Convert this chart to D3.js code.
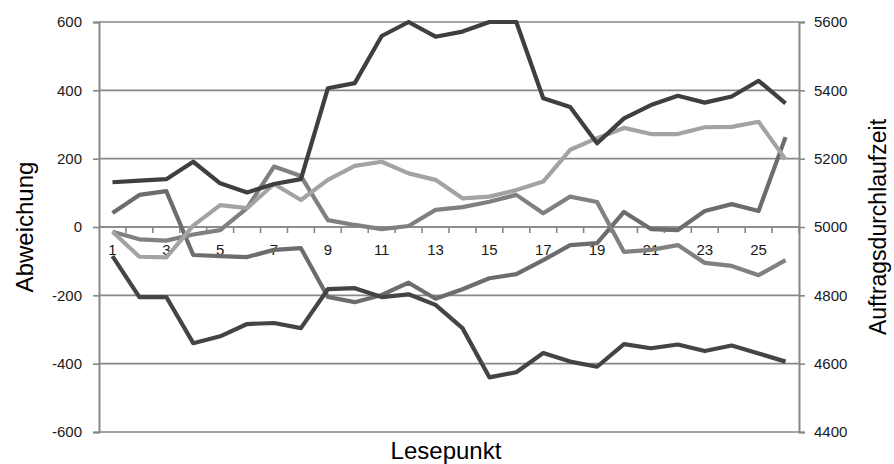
<!DOCTYPE html>
<html>
<head>
<meta charset="utf-8">
<script src="https://cdn.jsdelivr.net/npm/d3@7"></script>
<style>
  html, body { margin: 0; padding: 0; background: #fff; }
  svg { display: block; font-family: "Liberation Sans", Arial, sans-serif; }
</style>
</head>
<body>
<div id="chart"></div>
<script>
// Lesepunkte (x categories)
var lesepunkte = [1,2,3,4,5,6,7,8,9,10,11,12,13,14,15,16,17,18,19,20,21,22,23,24,25,26];
var leftTicks  = [-600,-400,-200,0,200,400,600];
var rightTicks = [4400,4600,4800,5000,5200,5400,5600];

// Abweichung series (left axis)
var reiheOben  = [131,136,140,191,128,101,126,140,406,421,559,600,557,572,600,600,377,351,245,318,357,384,364,382,428,362];
var reiheMitte = [41,94,105,-82,-85,-88,-67,-62,-205,-220,-199,-163,-210,-182,-150,-138,-97,-53,-47,44,-6,-9,47,67,47,263];
var reiheGrau  = [-14,-36,-40,-22,-9,55,177,149,20,6,-6,3,50,58,74,94,40,89,73,-73,-67,-53,-105,-114,-141,-97];
var reiheHell  = [-14,-87,-89,4,64,55,126,79,138,179,191,157,138,84,89,108,133,226,260,290,272,272,292,293,308,198];
// Auftragsdurchlaufzeit (right axis)
var durchlaufzeit = [4915,4795,4795,4660,4680,4716,4719,4704,4818,4821,4795,4803,4772,4704,4560,4575,4631,4606,4591,4657,4645,4656,4637,4653,4630,4606];

var W = 894, H = 464;
var m = {left: 99, right: 95, top: 22, bottom: 32};
var x0 = m.left, x1 = W - m.right, yTop = m.top, yBot = H - m.bottom;

var svg = d3.select('#chart').append('svg').attr('width', W).attr('height', H);

var x  = d3.scaleBand().domain(lesepunkte).range([x0, x1]).padding(0);
var y  = d3.scaleLinear().domain([-600, 600]).range([yBot, yTop]);
var yR = d3.scaleLinear().domain([4400, 5600]).range([yBot, yTop]);
var cx = function(c){ return x(c) + x.bandwidth() / 2; };
var plain = function(d){ return String(d); };   // "-600", "5600" like the original

var gridCol = '#878787';

// horizontal gridlines
svg.append('g').selectAll('line').data(leftTicks).join('line')
    .attr('x1', x0).attr('x2', x1)
    .attr('y1', function(d){ return y(d); }).attr('y2', function(d){ return y(d); })
    .attr('stroke', gridCol).attr('stroke-width', 1.6);

// left axis
var gL = svg.append('g').attr('transform', 'translate(' + x0 + ',0)')
    .call(d3.axisLeft(y).tickValues(leftTicks).tickFormat(plain).tickSize(6).tickPadding(11));
// right axis
var gR = svg.append('g').attr('transform', 'translate(' + x1 + ',0)')
    .call(d3.axisRight(yR).tickValues(rightTicks).tickFormat(plain).tickSize(6).tickPadding(9));
[gL, gR].forEach(function(g){
    g.select('.domain').attr('stroke', gridCol).attr('stroke-width', 2);
    g.selectAll('.tick line').attr('stroke', gridCol).attr('stroke-width', 1.6);
    g.selectAll('.tick text').attr('fill', '#1a1a1a').attr('font-size', '15px')
        .attr('font-family', '"Liberation Sans", Arial, sans-serif');
});

// category axis along y = 0
var gX = svg.append('g').attr('transform', 'translate(0,' + y(0) + ')');
gX.append('line').attr('x1', x0).attr('x2', x1).attr('stroke', gridCol).attr('stroke-width', 1.6);
gX.selectAll('line.tk').data(lesepunkte.slice(1).concat([null])).join('line').attr('class', 'tk')
    .attr('x1', function(d){ return d === null ? x1 : x(d); })
    .attr('x2', function(d){ return d === null ? x1 : x(d); })
    .attr('y1', 0).attr('y2', 6).attr('stroke', gridCol).attr('stroke-width', 1.6);
gX.selectAll('text').data(lesepunkte.filter(function(d){ return d % 2 === 1; })).join('text')
    .attr('x', cx).attr('y', 28).attr('text-anchor', 'middle')
    .attr('fill', '#1a1a1a').attr('font-size', '15px').text(function(d){ return d; });

// lines
var series = [
    {values: reiheMitte, scale: y,  color: '#6c6c6c'},
    {values: reiheGrau,  scale: y,  color: '#808080'},
    {values: reiheHell,  scale: y,  color: '#a3a3a3'},
    {values: durchlaufzeit, scale: yR, color: '#444444'},
    {values: reiheOben,  scale: y,  color: '#3f3f3f'}
];
svg.append('defs').append('clipPath').attr('id', 'plot')
    .append('rect').attr('x', x0).attr('y', yTop - 2).attr('width', x1 - x0).attr('height', yBot - yTop + 4);
var gLines = svg.append('g').attr('clip-path', 'url(#plot)');
series.forEach(function(s){
    var line = d3.line()
        .x(function(d, i){ return cx(lesepunkte[i]); })
        .y(function(d){ return s.scale(d); });
    gLines.append('path').datum(s.values)
        .attr('d', line).attr('fill', 'none')
        .attr('stroke', s.color).attr('stroke-width', 4.2)
        .attr('stroke-linejoin', 'round').attr('stroke-linecap', 'butt');
});

// axis titles
svg.append('text').attr('transform', 'translate(33,' + y(0) + ') rotate(-90)')
    .attr('text-anchor', 'middle').attr('font-size', '24px').attr('fill', '#000').text('Abweichung');
svg.append('text').attr('transform', 'translate(886,' + y(0) + ') rotate(-90)')
    .attr('text-anchor', 'middle').attr('font-size', '23px').attr('fill', '#000').text('Auftragsdurchlaufzeit');
svg.append('text').attr('x', (x0 + x1) / 2 - 3).attr('y', 459)
    .attr('text-anchor', 'middle').attr('font-size', '24px').attr('fill', '#000').text('Lesepunkt');
</script>
</body>
</html>
